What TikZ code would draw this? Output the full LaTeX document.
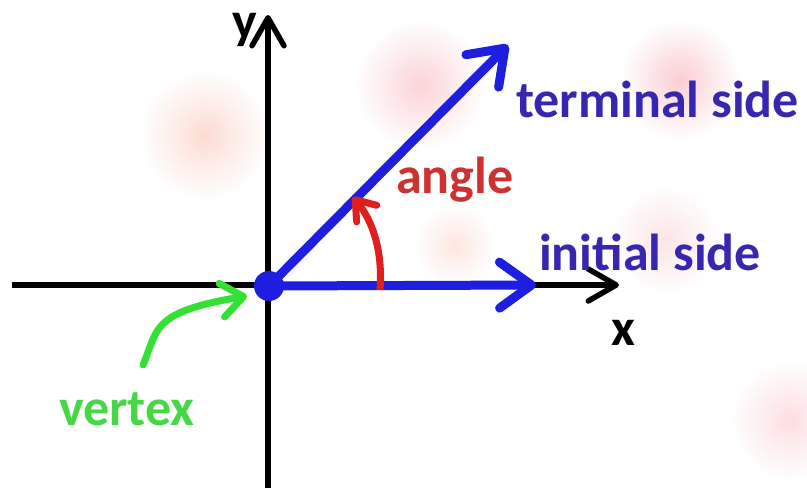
\documentclass[tikz,border=0pt]{standalone}
\usepackage{fontspec}
\setmainfont{Carlito}
\usetikzlibrary{arrows.meta}
\definecolor{rayblue}{RGB}{30,30,225}
\definecolor{txtblue}{RGB}{55,38,175}
\definecolor{arcred}{RGB}{225,30,30}
\definecolor{txtred}{RGB}{205,50,50}
\definecolor{arrgreen}{RGB}{50,225,50}
\definecolor{txtgreen}{RGB}{70,215,70}
\definecolor{blobpink}{RGB}{250,200,205}
\definecolor{blobpeach}{RGB}{250,205,190}
\begin{document}
\begin{tikzpicture}[x=1pt,y=-1pt,
  axisline/.style={line width=5.5pt,black,-{Straight Barb[length=28pt,width=32pt,round]}},
  rayline/.style={line width=9pt,rayblue,-{Straight Barb[length=32pt,width=46pt,round]}},
  lbl/.style={font=\fontsize{52}{58}\selectfont\bfseries,anchor=base west,inner sep=0pt},
  blob/.style={inner color=#1,outer color=white}]
\useasboundingbox (0,0) rectangle (807,488);
\fill[white] (0,0) rectangle (807,488);
% faint background blobs
\shade[blob=blobpeach!70] (205,135) circle (65);
\shade[blob=blobpink!80] (420,85) circle (65);
\shade[blob=blobpink!90] (680,80) circle (60);
\shade[blob=blobpeach!50] (455,245) circle (40);
\shade[blob=blobpink!50] (665,240) circle (55);
\shade[blob=blobpink!60] (790,420) circle (60);
% named points
\coordinate (xl) at (12,285);
\coordinate (xr) at (619,285);
\coordinate (yb) at (268,488);
\coordinate (yt) at (268,15);
\coordinate (ti) at (536,285);
\coordinate (te) at (508,45);
\coordinate (as) at (380,290);
\coordinate (ae) at (353,197);
\coordinate (gs) at (143,365);
\coordinate (ge) at (247,296);
% axes
\draw[line width=5.5pt,black] (xl) -- (268,285);
\draw[axisline] (268,285) -- (xr);
\draw[axisline] (yb) -- (yt);
% rays
\node[circle,fill=rayblue,minimum size=30pt,inner sep=0pt] (v) at (269,286) {};
\draw[rayline] (v.center) -- (ti);
\draw[rayline] (v.center) -- (te);
% angle arc
\draw[line width=7pt,arcred,-{Straight Barb[length=18pt,width=26pt,round]}] (as) .. controls (383,250) and (372,220) .. (ae);
% vertex arrow
\draw[line width=7pt,arrgreen,line cap=round,-{Straight Barb[length=22pt,width=34pt,round]}] (gs) .. controls (158,330) and (150,312) .. (ge);
% labels
\node[lbl] (ylab) at (232,38) {y};
\node[lbl] (xlab) at (611,345) {x};
\node[lbl,txtblue] (term) at (516,117) {terminal side};
\node[lbl,txtblue] (init) at (539,270) {initial side};
\node[lbl,txtred] (ang) at (396,193) {angle};
\node[lbl,txtgreen] (vert) at (59,425) {vertex};
\end{tikzpicture}
\end{document}
